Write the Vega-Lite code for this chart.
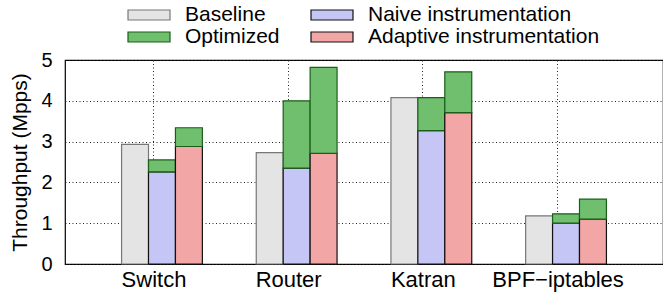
{
  "$schema": "https://vega.github.io/schema/vega-lite/v6.json",
  "width": 598,
  "height": 204,
  "autosize": {"type": "none"},
  "padding": {"left": 65, "top": 60, "right": 0, "bottom": 33},
  "config": {
    "font": "Liberation Sans",
    "view": {"stroke": "#000", "strokeWidth": 1.2},
    "axis": {"labelFont": "Liberation Sans", "titleFont": "Liberation Sans", "labelColor": "#000", "titleColor": "#000"},
    "legend": {"labelFont": "Liberation Sans"}
  },
  "data": {
    "values": [
      {"group": "Switch", "slot": "Baseline", "series": "Baseline", "value": 2.93},
      {"group": "Switch", "slot": "Naive", "series": "Naive instrumentation", "value": 2.26},
      {"group": "Switch", "slot": "Naive", "series": "Optimized", "value": 0.29},
      {"group": "Switch", "slot": "Adaptive", "series": "Adaptive instrumentation", "value": 2.88},
      {"group": "Switch", "slot": "Adaptive", "series": "Optimized", "value": 0.46},
      {"group": "Router", "slot": "Baseline", "series": "Baseline", "value": 2.73},
      {"group": "Router", "slot": "Naive", "series": "Naive instrumentation", "value": 2.35},
      {"group": "Router", "slot": "Naive", "series": "Optimized", "value": 1.65},
      {"group": "Router", "slot": "Adaptive", "series": "Adaptive instrumentation", "value": 2.71},
      {"group": "Router", "slot": "Adaptive", "series": "Optimized", "value": 2.11},
      {"group": "Katran", "slot": "Baseline", "series": "Baseline", "value": 4.08},
      {"group": "Katran", "slot": "Naive", "series": "Naive instrumentation", "value": 3.27},
      {"group": "Katran", "slot": "Naive", "series": "Optimized", "value": 0.81},
      {"group": "Katran", "slot": "Adaptive", "series": "Adaptive instrumentation", "value": 3.71},
      {"group": "Katran", "slot": "Adaptive", "series": "Optimized", "value": 1.0},
      {"group": "BPF−iptables", "slot": "Baseline", "series": "Baseline", "value": 1.18},
      {"group": "BPF−iptables", "slot": "Naive", "series": "Naive instrumentation", "value": 1.0},
      {"group": "BPF−iptables", "slot": "Naive", "series": "Optimized", "value": 0.23},
      {"group": "BPF−iptables", "slot": "Adaptive", "series": "Adaptive instrumentation", "value": 1.1},
      {"group": "BPF−iptables", "slot": "Adaptive", "series": "Optimized", "value": 0.49}
    ]
  },
  "mark": {"type": "bar", "strokeWidth": 1.2},
  "encoding": {
    "x": {
      "field": "group", "type": "nominal",
      "sort": ["Switch", "Router", "Katran", "BPF−iptables"],
      "scale": {"paddingInner": 0, "paddingOuter": 0.22},
      "axis": {
        "title": null, "labelAngle": 0, "labelFontSize": 22, "labelPadding": 5, "labelOffset": -8,
        "ticks": false, "domain": false, "bandPosition": 0.437,
        "grid": true, "gridColor": "#222", "gridDash": [1, 2.5], "gridWidth": 1
      }
    },
    "xOffset": {
      "field": "slot", "type": "nominal",
      "sort": ["Baseline", "Naive", "Adaptive"],
      "scale": {"paddingInner": 0, "paddingOuter": 1.52}
    },
    "y": {
      "field": "value", "type": "quantitative", "stack": "zero",
      "scale": {"domain": [0, 5], "nice": false},
      "axis": {
        "title": "Throughput (Mpps)", "titleFontSize": 21, "titleFontWeight": "normal", "titlePadding": 10,
        "labelFontSize": 20, "labelPadding": 13, "values": [0, 1, 2, 3, 4, 5], "labelOverlap": false,
        "ticks": false, "domain": false,
        "grid": true, "gridColor": "#222", "gridDash": [1, 2.5], "gridWidth": 1
      }
    },
    "order": {"field": "series", "sort": "ascending"},
    "fill": {
      "field": "series", "type": "nominal",
      "scale": {
        "domain": ["Baseline", "Optimized", "Naive instrumentation", "Adaptive instrumentation"],
        "range": ["#e4e4e4", "#6fbf6f", "#c6c6f6", "#f3a6a6"]
      },
      "legend": {
        "title": null, "orient": "none", "legendX": 73, "legendY": -56,
        "columns": 2, "columnPadding": 28, "rowPadding": 1,
        "labelFontSize": 21, "labelColor": "#000", "labelOffset": 25, "labelLimit": 400,
        "symbolType": "M-2.1,-0.5H2.1V0.5H-2.1Z", "symbolSize": 400, "symbolStrokeWidth": 1.2
      }
    },
    "stroke": {
      "field": "series", "type": "nominal",
      "scale": {
        "domain": ["Baseline", "Optimized", "Naive instrumentation", "Adaptive instrumentation"],
        "range": ["#777777", "#1b5e1b", "#111111", "#111111"]
      },
      "legend": null
    }
  }
}
